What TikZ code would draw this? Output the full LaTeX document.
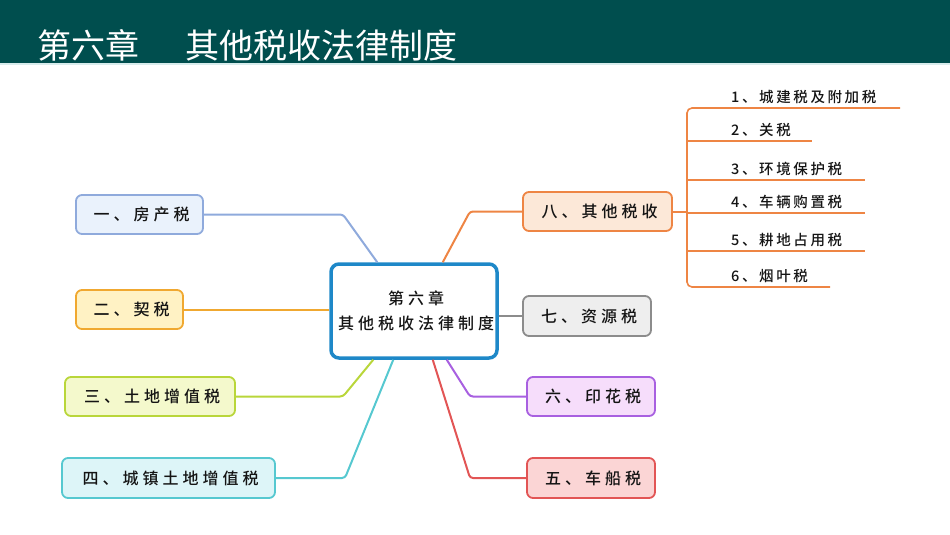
\documentclass[tikz,border=0pt]{standalone}
\usepackage{fontspec}
\setmainfont{Noto Sans CJK SC}
\newfontfamily\cjk[LetterSpace=25,UprightFont={* Medium}]{Noto Sans CJK SC}
\newfontfamily\cjksub[LetterSpace=18,UprightFont={* Medium}]{Noto Sans CJK SC}
\newfontfamily\cjktitle{Noto Sans CJK SC}
\usetikzlibrary{calc}
\definecolor{titlebg}{HTML}{004E4E}
\definecolor{titleline}{HTML}{D8ECEC}
\definecolor{cblue}{HTML}{1E88C8}
\definecolor{f1}{HTML}{EAF2FC}\definecolor{d1}{HTML}{8FAADC}
\definecolor{f2}{HTML}{FFF2C4}\definecolor{d2}{HTML}{F0A830}
\definecolor{f3}{HTML}{F4F9CC}\definecolor{d3}{HTML}{B9D63A}
\definecolor{f4}{HTML}{DDF5F8}\definecolor{d4}{HTML}{56C8D0}
\definecolor{f5}{HTML}{FBD5D5}\definecolor{d5}{HTML}{E25555}
\definecolor{f6}{HTML}{F6DDFB}\definecolor{d6}{HTML}{A860E0}
\definecolor{f7}{HTML}{EEEEEE}\definecolor{d7}{HTML}{8C8C8C}
\definecolor{f8}{HTML}{FCE8D8}\definecolor{d8}{HTML}{EE8544}
\definecolor{txt}{HTML}{141414}
\tikzset{
  branch/.style={draw, rounded corners=6pt, line width=1.8pt, minimum height=39pt,
    inner sep=0pt, text=txt, font=\cjk\fontsize{16}{18}\selectfont},
  link/.style={line width=2pt, rounded corners=3pt},
  subtext/.style={anchor=base west, inner sep=0pt, text=txt, font=\cjksub\fontsize{14.5}{16}\selectfont},
  subline/.style={draw=d8, line width=1.6pt, rounded corners=5pt},
  titletext/.style={anchor=base west, inner sep=0pt, text=white, font=\cjktitle\fontsize{34}{38}\selectfont}
}
\begin{document}
\begin{tikzpicture}[x=1pt,y=-1pt]
\useasboundingbox (0,0) rectangle (950,535);
% title bar
\fill[titlebg] (0,0) rectangle (950,63);
\fill[titleline] (0,63) rectangle (950,65.5);
\node[titletext] (t1) at (37,58.5) {第六章};
\node[titletext] (t2) at (185,58.5) {其他税收法律制度};
% centre
\node[draw=cblue, line width=3.5pt, rounded corners=8pt, minimum width=166pt, minimum height=94pt,
  inner sep=0pt, align=center, text=txt, font=\cjk\fontsize{16}{25}\selectfont] (c) at (414,311)
  {\hspace*{4pt}第六章\\\hspace*{4pt}其他税收法律制度};
% left branches
\node[branch, fill=f1, draw=d1, minimum width=127pt] (n1) at (139.5,214.5) {\hspace*{4pt}一、房产税};
\node[branch, fill=f2, draw=d2, minimum width=107pt] (n2) at (129.5,309.5) {\hspace*{4pt}二、契税};
\node[branch, fill=f3, draw=d3, minimum width=170pt] (n3) at (150,396.5) {\hspace*{4pt}三、土地增值税};
\node[branch, fill=f4, draw=d4, minimum width=213pt, minimum height=40pt] (n4) at (168.5,478) {\hspace*{4pt}四、城镇土地增值税};
% right branches
\node[branch, fill=f8, draw=d8, minimum width=149pt] (n8) at (597.5,211.5) {\hspace*{4pt}八、其他税收};
\node[branch, fill=f7, draw=d7, minimum width=128pt, minimum height=40pt] (n7) at (587,316) {\hspace*{4pt}七、资源税};
\node[branch, fill=f6, draw=d6, minimum width=128pt] (n6) at (591,396.5) {\hspace*{4pt}六、印花税};
\node[branch, fill=f5, draw=d5, minimum width=128pt, minimum height=40pt] (n5) at (591,478) {\hspace*{4pt}五、车船税};
% connectors
\draw[link, draw=d1] (n1.east) -- (343,214.5) -- ([xshift=48pt]c.north west);
\draw[link, draw=d2] (n2.east) -- (n2.east -| c.west);
\draw[link, draw=d3] (n3.east) -- (343,396.5) -- ([xshift=44pt]c.south west);
\draw[link, draw=d4] (n4.east) -- (345,478) -- ([xshift=64pt]c.south west);
\draw[link, draw=d8] (n8.west) -- (470,211.5) -- ([xshift=-56pt]c.north east);
\draw[link, draw=d7] (n7.west -| c.east) -- (n7.west);
\draw[link, draw=d6] (n6.west) -- (470,396.5) -- ([xshift=-52pt]c.south east);
\draw[link, draw=d5] (n5.west) -- (470,478) -- ([xshift=-66pt]c.south east);
% sub items of 八
\coordinate (sp) at (687,211.5);
\draw[subline] (900,108) -- (687,108) -- (687,287) -- (830,287);
\draw[subline, line width=2pt] (n8.east) -- (sp);
\draw[subline] (687,141) -- (812,141);
\draw[subline] (687,180) -- (865,180);
\draw[subline] (687,213) -- (865,213);
\draw[subline] (687,251) -- (865,251);
\node[subtext] (s1) at (731,102) {1、城建税及附加税};
\node[subtext] (s2) at (731,135) {2、关税};
\node[subtext] (s3) at (731,174) {3、环境保护税};
\node[subtext] (s4) at (731,207) {4、车辆购置税};
\node[subtext] (s5) at (731,245) {5、耕地占用税};
\node[subtext] (s6) at (731,281) {6、烟叶税};
\end{tikzpicture}
\end{document}
